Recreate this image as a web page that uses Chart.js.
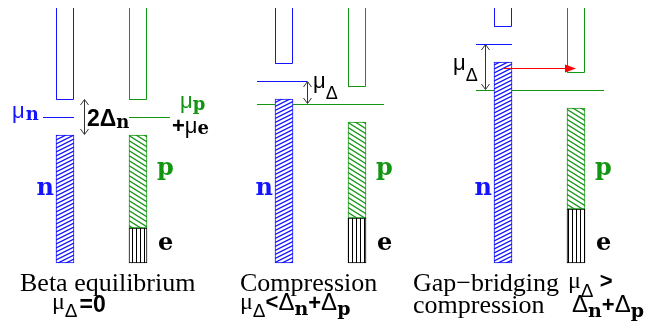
<!DOCTYPE html>
<html><head><meta charset="utf-8">
<script src="https://cdn.jsdelivr.net/npm/chart.js@4.4.1/dist/chart.umd.min.js"></script>
<style>html,body{margin:0;padding:0;background:#fff;overflow:hidden}#wrap{width:665px;height:324px;position:relative}</style>
</head><body><div id="wrap"><canvas id="c"></canvas></div>
<script>
// ---- data (energies, arbitrary units; 0 = bottom of the Fermi seas) ----
const panels = ['Beta equilibrium', 'Compression', 'Gap\u2212bridging compression'];
const nFillTop = [128, 164, 201];   // top of filled neutron states
const nGapTop  = [164, 200, 237];   // bottom of empty neutron band (fill top + 2Δn)
const pFillTop = [128, 141, 155];   // top of filled proton states
const pGapTop  = [164, 177, 191];   // bottom of empty proton band
const eTop     = [35, 45, 54];      // top of electron sea
const muN      = [146, 182, 219];   // neutron chemical potential
const muPE     = [146, 159, 173];   // mu_p + mu_e
const redArrowE = 195;              // energy of the gap-bridging transfer arrow
const bandTopE = 255;

// ---- layout ----
const nX = [65, 284, 503];
const pX = [138, 357, 576];
const W = 18;
const BLUE = '#1414ff', GREEN = '#129612';
const SANS = '"Liberation Sans", Arial, sans-serif';
const SLAB = '"DejaVu Serif", serif';
const SERIF = '"Liberation Serif", "Times New Roman", serif';

function pattern(w, h, draw) {
  const c = document.createElement('canvas'); c.width = w; c.height = h;
  const g = c.getContext('2d'); draw(g, w, h);
  return g.createPattern(c, 'repeat');
}
const blueHatch = pattern(8, 4, (g, w, h) => {
  g.fillStyle = '#fff'; g.fillRect(0, 0, w, h);
  g.strokeStyle = BLUE; g.lineWidth = 1.3;
  for (let k = -1; k <= 1; k++) { g.beginPath(); g.moveTo(-1, h + k * h + 0.5); g.lineTo(w + 1, k * h - 0.5); g.stroke(); }
});
const greenHatch = pattern(8, 5, (g, w, h) => {
  g.fillStyle = '#fff'; g.fillRect(0, 0, w, h);
  g.strokeStyle = GREEN; g.lineWidth = 1.3;
  for (let k = -1; k <= 1; k++) { g.beginPath(); g.moveTo(-1, k * h - 0.6); g.lineTo(w + 1, h + k * h + 0.6); g.stroke(); }
});
const eHatch = pattern(4, 2, (g, w, h) => {
  g.fillStyle = '#fff'; g.fillRect(0, 0, w, h);
  g.fillStyle = '#000'; g.fillRect(0, 0, 1, h);
});

function outlines(xs, gaps) {
  const pts = [];
  xs.forEach((x, i) => {
    const l = x - W / 2 + 0.5, r = x + W / 2 - 0.5, g = gaps[i] - 0.5;
    pts.push({x: l, y: bandTopE}, {x: l, y: g}, {x: r, y: g}, {x: r, y: bandTopE}, {x: r, y: null});
  });
  return pts;
}
function levels(vals, segs) {
  const pts = [];
  vals.forEach((v, i) => {
    pts.push({x: segs[i][0], y: v - 0.5}, {x: segs[i][1], y: v - 0.5}, {x: segs[i][1], y: null});
  });
  return pts;
}
const blueSegs = [[nX[0] - 22, nX[0] + 9], [nX[1] - 27, nX[1] + 23], [nX[2] - 27, nX[2] + 9]];
const greenSegs = [[pX[0] - 9, pX[0] + 32], [nX[1] - 27, pX[1] + 27], [nX[2] - 27, pX[2] + 28]];

const barBase = {type: 'bar', borderWidth: 1, borderSkipped: false, barThickness: W, grouped: false};
const lineBase = {type: 'line', borderWidth: 1, pointRadius: 0, fill: false, tension: 0, spanGaps: false};

const datasets = [
  {...barBase, label: 'n', data: nX.map((x, i) => ({x, y: [0, nFillTop[i]]})), backgroundColor: blueHatch, borderColor: BLUE},
  {...barBase, label: 'p', data: pX.map((x, i) => ({x, y: [eTop[i], pFillTop[i]]})), backgroundColor: greenHatch, borderColor: GREEN},
  {...barBase, label: 'e', data: pX.map((x, i) => ({x, y: [0, eTop[i]]})), backgroundColor: eHatch, borderColor: '#000'},
  {...lineBase, label: 'n empty', data: outlines(nX, nGapTop), borderColor: BLUE},
  {...lineBase, label: 'p empty', data: outlines(pX, pGapTop), borderColor: GREEN},
  {...lineBase, label: 'mu_n', data: levels(muN, blueSegs), borderColor: BLUE},
  {...lineBase, label: 'mu_p+mu_e', data: levels(muPE, greenSegs), borderColor: GREEN}
];

function runs(ctx, x, y, list) {
  let cx = x;
  for (const r of list) {
    ctx.font = r.f; ctx.fillStyle = r.c || '#000';
    cx += r.dx || 0;
    ctx.fillText(r.t, cx, y + (r.dy || 0));
    cx += ctx.measureText(r.t).width;
  }
}

const annot = {
  id: 'annot',
  afterDatasetsDraw(chart) {
    const {ctx, scales: {x: xs, y: ys}} = chart;
    const X = v => xs.getPixelForValue(v), Y = v => ys.getPixelForValue(v);
    ctx.save();
    function dbl(x, e1, e2) {
      const px = Math.round(X(x)) + 0.5, y1 = Y(e1), y2 = Y(e2);
      ctx.strokeStyle = '#333'; ctx.lineWidth = 1;
      ctx.beginPath(); ctx.moveTo(px, y1 + 1); ctx.lineTo(px, y2 - 1); ctx.stroke();
      ctx.beginPath(); ctx.moveTo(px - 4, y1 + 6); ctx.lineTo(px, y1 + 0.5); ctx.lineTo(px + 4, y1 + 6); ctx.stroke();
      ctx.beginPath(); ctx.moveTo(px - 4, y2 - 6); ctx.lineTo(px, y2 - 0.5); ctx.lineTo(px + 4, y2 - 6); ctx.stroke();
    }
    dbl(nX[0] + 19, nGapTop[0], nFillTop[0]);
    dbl(nX[1] + 23, muN[1], muPE[1]);
    dbl(nX[2] - 18, muN[2], muPE[2]);
    const ry = Math.round(Y(redArrowE)) + 0.5, rx1 = X(nX[2]), rx2 = X(pX[2]);
    ctx.strokeStyle = '#ff0000'; ctx.fillStyle = '#ff0000';
    ctx.beginPath(); ctx.moveTo(rx1, ry); ctx.lineTo(rx2 - 10, ry); ctx.stroke();
    ctx.beginPath(); ctx.moveTo(rx2 - 11, ry - 4); ctx.lineTo(rx2, ry); ctx.lineTo(rx2 - 11, ry + 4); ctx.closePath(); ctx.fill();

    ctx.textBaseline = 'alphabetic'; ctx.textAlign = 'left';
    const B = v => Y(263 - v);
    const sub18 = `bold 18px ${SLAB}`;
    runs(ctx, 12, B(118), [{t: 'μ', f: `22px ${SANS}`, c: BLUE}, {t: 'n', f: sub18, c: BLUE, dy: 2, dx: 1}]);
    runs(ctx, 87, B(126), [{t: '2Δ', f: `bold 23px ${SANS}`}, {t: 'n', f: sub18, dy: 2}]);
    runs(ctx, 180, B(108), [{t: 'μ', f: `22px ${SANS}`, c: GREEN}, {t: 'p', f: sub18, c: GREEN, dy: 2}]);
    runs(ctx, 172, B(133), [{t: '+', f: `bold 22px ${SANS}`}, {t: 'μ', f: `22px ${SANS}`}, {t: 'e', f: sub18, dy: 1}]);
    for (let i = 0; i < 3; i++) {
      ctx.font = `bold 24px ${SLAB}`;
      ctx.fillStyle = BLUE; ctx.textAlign = 'right'; ctx.fillText('n', X(nX[i] - W / 2 - 2), B(195));
      ctx.textAlign = 'left';
      ctx.fillStyle = GREEN; ctx.fillText('p', X(pX[i] + W / 2 + 10), B(175));
      ctx.fillStyle = '#000'; ctx.fillText('e', X(pX[i] + W / 2 + 11), B(250));
    }
    runs(ctx, 313, B(88), [{t: 'μ', f: `22px ${SANS}`}, {t: 'Δ', f: `18px ${SANS}`, dy: 11}]);
    runs(ctx, 453, B(70), [{t: 'μ', f: `22px ${SANS}`}, {t: 'Δ', f: `18px ${SANS}`, dy: 11}]);
    ctx.fillStyle = '#000';
    ctx.font = `26px ${SERIF}`;
    ctx.fillText(panels[0], 20, B(291));
    ctx.fillText(panels[1], 240, B(291));
    ctx.fillText('Gap\u2212bridging', 413, B(291));
    ctx.fillText('compression', 413, B(313));
    const mu = {t: 'μ', f: `24px ${SERIF}`}, dsub = {t: 'Δ', f: `19px ${SANS}`, dy: 8};
    const sub19 = `bold 19px ${SLAB}`;
    runs(ctx, 52, B(309), [mu, dsub, {t: '=0', f: `bold 23px ${SANS}`, dy: 3, dx: 2}]);
    runs(ctx, 240, B(309), [mu, dsub, {t: '<', f: `bold 22px ${SANS}`}, {t: 'Δ', f: `24px ${SANS}`, dy: 1},
      {t: 'n', f: sub19, dy: 6}, {t: '+', f: `bold 22px ${SANS}`, dy: 1}, {t: 'Δ', f: `24px ${SANS}`, dy: 1}, {t: 'p', f: sub19, dy: 6}]);
    runs(ctx, 568, B(288), [mu, {t: 'Δ', f: `19px ${SANS}`, dy: 9}, {t: ' >', f: `bold 22px ${SANS}`}]);
    runs(ctx, 572, B(312), [{t: 'Δ', f: `24px ${SANS}`}, {t: 'n', f: sub19, dy: 5}, {t: '+', f: `bold 22px ${SANS}`}, {t: 'Δ', f: `24px ${SANS}`}, {t: 'p', f: sub19, dy: 5}]);
    ctx.restore();
  }
};

new Chart(document.getElementById('c'), {
  type: 'bar',
  data: {datasets},
  options: {
    responsive: true, maintainAspectRatio: false, animation: false,
    layout: {padding: 0},
    plugins: {legend: {display: false}, tooltip: {enabled: false}},
    events: [],
    scales: {
      x: {type: 'linear', min: 0, max: 665, offset: false, display: false},
      y: {type: 'linear', min: -61, max: 263, display: false}
    }
  },
  plugins: [annot]
});
</script></body></html>
